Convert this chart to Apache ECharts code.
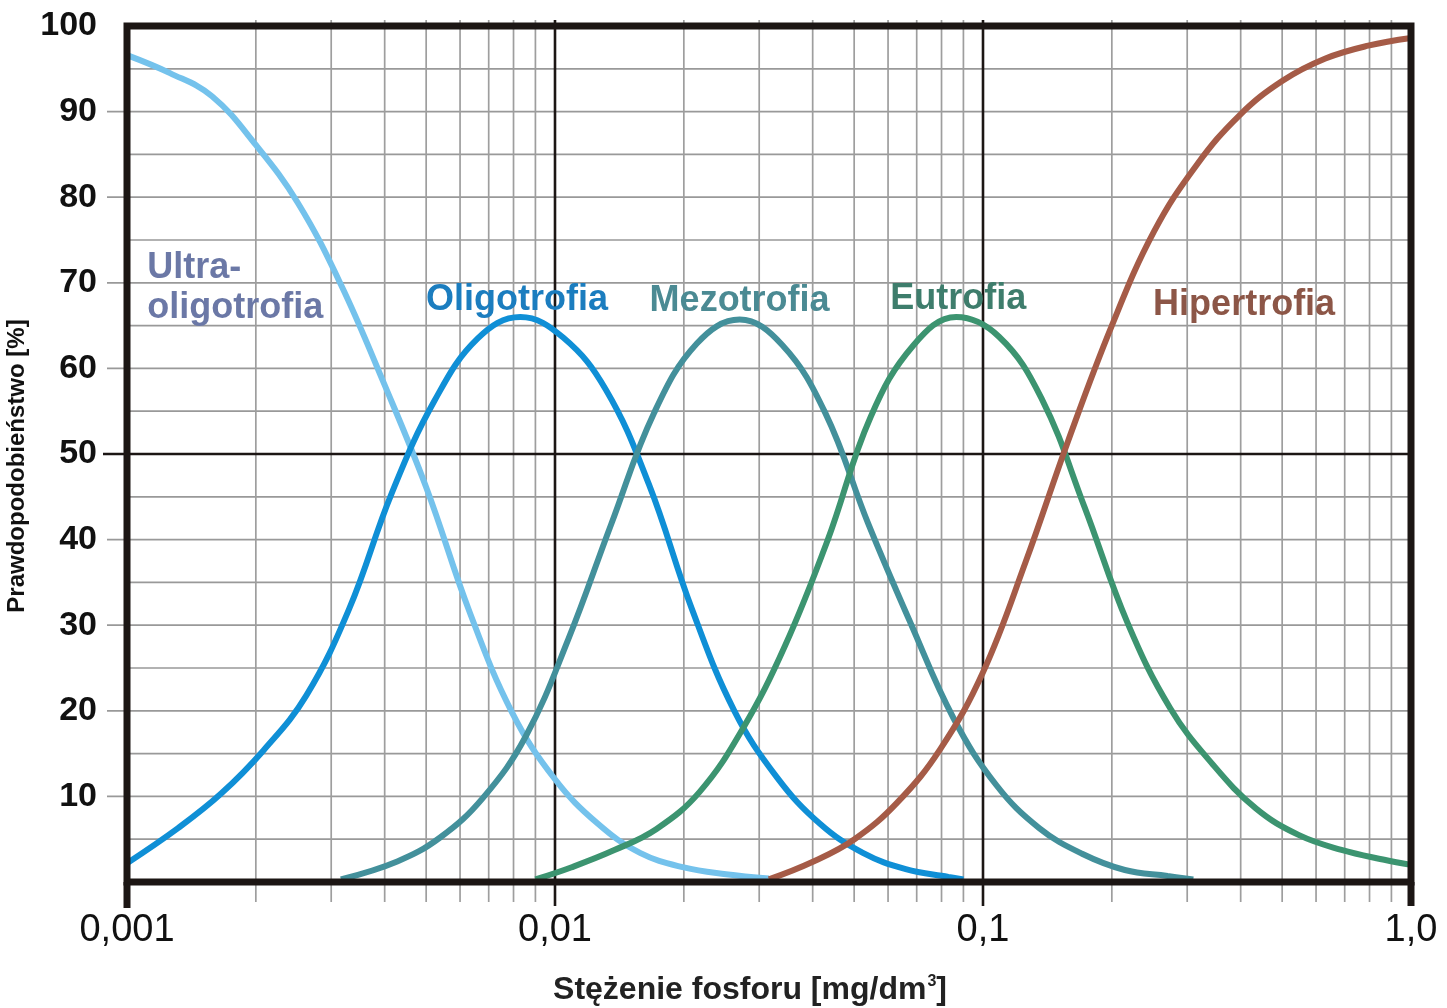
<!DOCTYPE html>
<html>
<head>
<meta charset="utf-8">
<script src="https://cdn.jsdelivr.net/npm/echarts@6/dist/echarts.min.js"></script>
<style>html,body{margin:0;padding:0;background:#fff}#c{width:1447px;height:1008px}</style>
</head>
<body>
<div id="c"></div>
<script>
// ---- data ----
const xTickValues = [0.001, 0.01, 0.1, 1];
const xTickLabels = ['0,001', '0,01', '0,1', '1,0'];
const xMinorGrid = [0.002,0.003,0.004,0.005,0.006,0.007,0.008,0.009,
                    0.02,0.03,0.04,0.05,0.06,0.07,0.08,0.09,
                    0.2,0.3,0.4,0.5,0.6,0.7,0.8,0.9];
const xMajorGrid = [0.01, 0.1];
const yMinorGrid = [5,15,25,35,45,55,65,75,85,95];
const yMajorGrid = [10,20,30,40,60,70,80,90];
const yBlackGrid = [50];

const ultraX = [0.001,0.00126,0.00158,0.002,0.00251,0.00316,0.00398,0.00501,0.00631,0.00794,0.01,0.0126,0.0158,0.02,0.0251,0.0316];
const ultraY = [96.6,94.5,91.8,86.1,79.3,69.8,58.3,46,31.6,19.8,12.0,6.8,3.4,1.7,0.9,0.4];

const oligoX = [0.001,0.001316,0.001657,0.002086,0.002625,0.003304,0.00416,0.00524,0.0066,0.0083,0.01045,0.01315,0.01656,0.02085,0.02624,0.03304,0.0416,0.0524,0.066,0.083,0.09];
const oligoY = [2.2,6.3,10.3,15.4,21.8,31.9,45.5,56.3,63.5,66,63.6,57.5,46.5,32,20,12.2,6.8,3.4,1.5,0.6,0.3];

const mezoX = [0.00316,0.00428,0.00539,0.00678,0.00854,0.01075,0.01353,0.01704,0.02145,0.027,0.034,0.0428,0.0539,0.0678,0.0854,0.1075,0.1353,0.1704,0.2145,0.27,0.31];
const mezoY = [0.3,2.4,5.2,9.8,17,28.4,41.8,54.8,62.9,65.7,62.7,54.8,41.9,30.2,19.1,11.3,6.3,3.3,1.4,0.7,0.3];

const euX = [0.009,0.0109,0.01372,0.01727,0.02175,0.02738,0.03447,0.0434,0.0546,0.0688,0.0866,0.109,0.137,0.1727,0.2175,0.2738,0.3447,0.434,0.546,0.688,0.866,1.0];
const euY = [0.3,1.7,3.7,6.2,10.5,17.8,27.6,40,54.3,62.7,66,63.7,56.5,43.8,30.3,20.3,13.7,8.6,5.5,3.75,2.6,2.0];

const hiperX = [0.0316,0.0398,0.0501,0.0631,0.0794,0.1,0.126,0.158,0.2,0.251,0.316,0.398,0.501,0.631,0.794,1.0];
const hiperY = [0.3,2.3,5.0,9.3,15.5,24.5,37.5,51.5,65,76,83.8,89.6,93.6,96.2,97.7,98.6];

const seriesNames = ['Ultra-\noligotrofia', 'Oligotrofia', 'Mezotrofia', 'Eutrofia', 'Hipertrofia'];
const labelAnchorX = [0.001115, 0.00815, 0.027, 0.0875, 0.4075];
const labelAnchorY = [69.4, 68.0, 67.9, 68.1, 67.4];

// ---- styles ----
const lineColors  = ['#74c2ec', '#0f8fd6', '#43909b', '#3c9470', '#a55b47'];
const labelColors = ['#6b78a6', '#1b7dbf', '#4b8a93', '#3e7d6c', '#8c5647'];
const FONT = '"Liberation Sans", Arial, sans-serif';

const xs = [ultraX, oligoX, mezoX, euX, hiperX];
const ys = [ultraY, oligoY, mezoY, euY, hiperY];

const X0 = xTickValues[0], X1 = xTickValues[xTickValues.length - 1];

function vLineSeries(values, color, width, extTop, extBot, z) {
  return {
    type: 'custom', silent: true, clip: false, z: z,
    data: values.map(v => [v, 0]),
    renderItem: function (params, api) {
      const v = api.value(0);
      const t = api.coord([v, 100]);
      const b = api.coord([v, 0]);
      return { type: 'line', shape: { x1: t[0], y1: t[1] - extTop, x2: b[0], y2: b[1] + extBot },
               style: { stroke: color, lineWidth: width } };
    }
  };
}
function hLineSeries(values, color, width, extLeft, z) {
  return {
    type: 'custom', silent: true, clip: false, z: z,
    data: values.map(v => [X0, v]),
    renderItem: function (params, api) {
      const v = api.value(1);
      const l = api.coord([X0, v]);
      const r = api.coord([X1, v]);
      return { type: 'line', shape: { x1: l[0] - extLeft, y1: l[1], x2: r[0], y2: r[1] },
               style: { stroke: color, lineWidth: width } };
    }
  };
}

const curveSeries = seriesNames.map((name, i) => ({
  name: name,
  type: 'line',
  smooth: 0.4,
  showSymbol: false,
  symbol: 'none',
  z: 3,
  clip: false,
  lineStyle: { color: lineColors[i], width: 6 },
  data: xs[i].map((x, k) => [x, ys[i][k]]),
  markPoint: {
    symbol: 'circle', symbolSize: 0, silent: true,
    data: [{ coord: [labelAnchorX[i], labelAnchorY[i]] }],
    label: {
      show: true,
      formatter: name,
      color: labelColors[i],
      fontFamily: FONT,
      fontWeight: 'bold',
      fontSize: 36,
      lineHeight: 40,
      position: i === 0 ? 'right' : 'inside',
      distance: 0,
      align: i === 0 ? 'left' : 'center',
      verticalAlign: 'middle'
    }
  }
}));

const frameSeries = {
  type: 'custom', silent: true, clip: false, z: 6,
  data: [[X0, 0]],
  renderItem: function (params, api) {
    const tl = api.coord([X0, 100]);
    const br = api.coord([X1, 0]);
    return {
      type: 'group',
      children: [
        { type: 'rect', shape: { x: tl[0], y: tl[1], width: br[0] - tl[0], height: br[1] - tl[1] },
          style: { fill: 'none', stroke: '#1c1614', lineWidth: 7 } },
        { type: 'line', shape: { x1: tl[0], y1: br[1], x2: tl[0], y2: br[1] + 26 },
          style: { stroke: '#1c1614', lineWidth: 7 } },
        { type: 'line', shape: { x1: br[0], y1: br[1], x2: br[0], y2: br[1] + 24 },
          style: { stroke: '#1c1614', lineWidth: 7 } }
      ]
    };
  }
};

const chart = echarts.init(document.getElementById('c'), null, { renderer: 'canvas' });
chart.setOption({
  animation: false,
  backgroundColor: '#ffffff',
  grid: { left: 127, right: 36, top: 26, bottom: 126, containLabel: false, outerBoundsMode: 'none' },
  xAxis: {
    type: 'log', logBase: 10, min: X0, max: X1,
    axisLine: { show: false }, axisTick: { show: false }, splitLine: { show: false },
    axisLabel: {
      show: true, margin: 30, color: '#111', fontFamily: FONT, fontSize: 38,
      showMinLabel: true, showMaxLabel: true,
      formatter: function (v) {
        const idx = xTickValues.findIndex(t => Math.abs(Math.log10(t) - Math.log10(v)) < 1e-6);
        return idx >= 0 ? xTickLabels[idx] : '';
      }
    },
    name: 'Stężenie fosforu [mg/dm{s|3}]',
    nameLocation: 'middle', nameGap: 92,
    nameTextStyle: {
      color: '#222', fontFamily: FONT, fontWeight: 'bold', fontSize: 32, padding: [0, 38, 0, 0],
      rich: { s: { fontFamily: FONT, fontSize: 16, color: '#222', padding: [0, 0, 16, 1] } }
    }
  },
  yAxis: {
    type: 'value', min: 0, max: 100, interval: 10,
    axisLine: { show: false }, axisTick: { show: false }, splitLine: { show: false },
    axisLabel: {
      margin: 30, color: '#111', fontFamily: FONT, fontWeight: 'bold', fontSize: 34,
      formatter: v => (v === 0 ? '' : String(v))
    },
    name: 'Prawdopodobieństwo [%]',
    nameLocation: 'middle', nameRotate: 90, nameGap: 96,
    nameTextStyle: { color: '#111', fontFamily: FONT, fontWeight: 'bold', fontSize: 24, padding: [0, 24, 0, 0] }
  },
  series: [
    hLineSeries(yMinorGrid, '#999999', 1.7, 0, 1),
    hLineSeries(yMajorGrid, '#999999', 1.7, 20, 1),
    vLineSeries(xMinorGrid, '#9e9e9e', 1.7, 6, 20, 1),
    hLineSeries(yBlackGrid, '#1c1614', 2.4, 24, 2),
    vLineSeries(xMajorGrid, '#1c1614', 2.6, 6, 24, 2),
    ...curveSeries,
    frameSeries
  ]
});
</script>
</body>
</html>
